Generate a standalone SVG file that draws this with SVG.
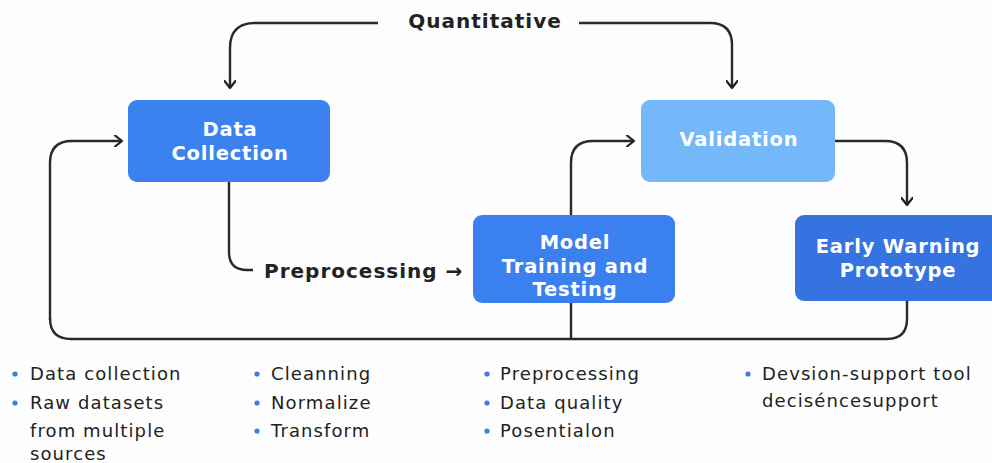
<svg xmlns="http://www.w3.org/2000/svg" width="992" height="463" viewBox="0 0 992 463">
<defs>
<marker id="arr" markerWidth="12" markerHeight="12" refX="9" refY="6" orient="auto" markerUnits="userSpaceOnUse">
<path d="M2,0.5 L9,6 L2,11.5" fill="none" stroke="#222" stroke-width="2.2" stroke-linecap="round" stroke-linejoin="round"/>
</marker>
<style>
.bg{fill:#fdfdfd}
.ln{fill:none;stroke:#2a2a2a;stroke-width:2.4;stroke-linejoin:round}
.nt{font-family:"DejaVu Sans","Liberation Sans",sans-serif;font-weight:700;font-size:19.5px;letter-spacing:0.8px;fill:#fff;text-anchor:middle}
.lb{font-family:"DejaVu Sans","Liberation Sans",sans-serif;font-weight:700;font-size:20px;letter-spacing:1px;fill:#222}
.bt{font-family:"DejaVu Sans","Liberation Sans",sans-serif;font-size:18px;letter-spacing:1.1px;fill:#222}
.dot{fill:#3b7de6}
</style>
</defs>
<rect class="bg" x="0" y="0" width="992" height="463"/>
<g id="connectors">
<path class="ln" d="M378,23 H255 Q230,23 230,48 V88" marker-end="url(#arr)"/>
<path class="ln" d="M579,23 H710 Q732,23 732,45 V88" marker-end="url(#arr)"/>
<path class="ln" d="M229,182 V252 Q229,270 247,270 H253"/>
<path class="ln" d="M50,320 V163 Q50,141 72,141 H122" marker-end="url(#arr)"/>
<path class="ln" d="M50,318 Q50,339 71,339 H887 Q907,339 907,319 V301"/>
<path class="ln" d="M571,339 V303"/>
<path class="ln" d="M571,215 V163 Q571,141 593,141 H634" marker-end="url(#arr)"/>
<path class="ln" d="M835,141 H885 Q907,141 907,163 V205" marker-end="url(#arr)"/>
</g>
<g id="label-quantitative"><text class="lb" x="485" y="28" text-anchor="middle">Quantitative</text></g>
<g id="label-preprocessing"><text class="lb" x="264" y="278">Preprocessing →</text></g>
<g id="node-data-collection">
<rect x="128" y="100" width="202" height="82" rx="9" fill="#3b82f0"/>
<text class="nt" x="230" y="136">Data</text>
<text class="nt" x="230" y="160">Collection</text>
</g>
<g id="node-validation">
<rect x="641" y="100" width="194" height="82" rx="9" fill="#74b8fa"/>
<text class="nt" x="739" y="146">Validation</text>
</g>
<g id="node-model">
<rect x="473" y="215" width="202" height="88" rx="9" fill="#3b80ef"/>
<text class="nt" x="575" y="249">Model</text>
<text class="nt" x="575" y="273">Training and</text>
<text class="nt" x="575" y="296">Testing</text>
</g>
<g id="node-early-warning">
<rect x="795" y="215" width="205" height="86" rx="9" fill="#3573e0"/>
<text class="nt" x="898" y="253">Early Warning</text>
<text class="nt" x="898" y="277">Prototype</text>
</g>
<g id="bullets">
<circle class="dot" cx="15" cy="374" r="2.6"/>
<text class="bt" x="30" y="380">Data collection</text>
<circle class="dot" cx="15" cy="403" r="2.6"/>
<text class="bt" x="30" y="409">Raw datasets</text>
<text class="bt" x="30" y="437">from multiple</text>
<text class="bt" x="30" y="460">sources</text>
<circle class="dot" cx="257" cy="374" r="2.6"/>
<text class="bt" x="271" y="380">Cleanning</text>
<circle class="dot" cx="257" cy="403" r="2.6"/>
<text class="bt" x="271" y="409">Normalize</text>
<circle class="dot" cx="257" cy="431" r="2.6"/>
<text class="bt" x="271" y="437">Transform</text>
<circle class="dot" cx="487" cy="374" r="2.6"/>
<text class="bt" x="500" y="380">Preprocessing</text>
<circle class="dot" cx="487" cy="403" r="2.6"/>
<text class="bt" x="500" y="409">Data quality</text>
<circle class="dot" cx="487" cy="431" r="2.6"/>
<text class="bt" x="500" y="437">Posentialon</text>
<circle class="dot" cx="748" cy="374" r="2.6"/>
<text class="bt" x="762" y="380">Devsion-support tool</text>
<text class="bt" x="762" y="407">decisénces​upport</text>
</g>
</svg>
